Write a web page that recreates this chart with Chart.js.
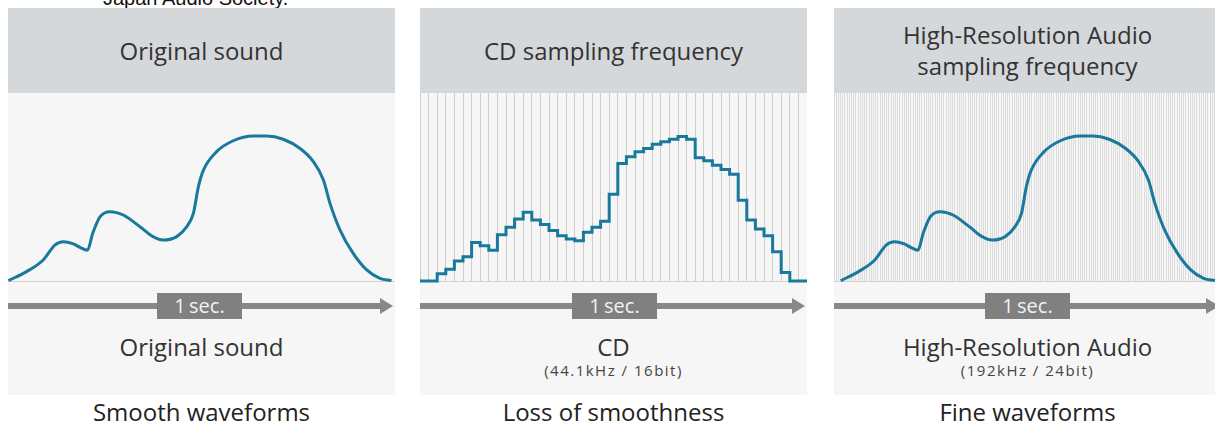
<!DOCTYPE html>
<html>
<head>
<meta charset="utf-8">
<script src="https://cdn.jsdelivr.net/npm/chart.js@4.4.1/dist/chart.umd.min.js"></script>
<style>
body { margin:0; width:1215px; height:427px; overflow:hidden; background:#fff; position:relative; font-family:"Open Sans", sans-serif; color:#333; }
.top { position:absolute; left:103px; top:-14px; font-family:"Liberation Sans", Arial, sans-serif; font-size:20px; line-height:24px; color:#111; white-space:nowrap; }
.panel { position:absolute; top:8px; width:387px; height:387px; background:#f6f6f6; }
.head { position:absolute; left:0; top:0; width:100%; height:85px; background:#d5d8db; }
.head div, .lbl, .sub { position:absolute; left:0; width:100%; text-align:center; white-space:nowrap; }
.head div { font-size:24px; line-height:32px; }
.plot { position:absolute; left:0; top:85px; }
.axis { position:absolute; left:0; top:295px; width:374px; height:6px; background:#888; }
.head-tip { position:absolute; left:372px; top:290px; width:0; height:0; border-left:13px solid #888; border-top:8px solid transparent; border-bottom:8px solid transparent; }
.sec { position:absolute; left:149px; top:285px; width:85px; height:26px; background:#808080; color:#f2f2f2; font-size:20px; line-height:26px; text-align:center; }
.lbl { top:323px; font-size:24px; line-height:32px; }
.sub { top:352px; font-size:15px; line-height:21px; letter-spacing:1.5px; color:#444; }
.cap { position:absolute; top:396px; width:387px; text-align:center; font-size:24px; line-height:32px; color:#222; }
</style>
</head>
<body>
<div class="top">Japan Audio Society.</div>

<div class="panel" style="left:8px">
  <div class="head"><div style="top:27px">Original sound</div></div>
  <canvas class="plot" id="origChart" width="387" height="190"></canvas>
  <div class="axis"></div><div class="head-tip"></div>
  <div class="sec">1&#8201;sec.</div>
  <div class="lbl">Original sound</div>
</div>
<div class="cap" style="left:8px">Smooth waveforms</div>

<div class="panel" style="left:420px">
  <div class="head"><div style="top:27px">CD sampling frequency</div></div>
  <canvas class="plot" id="cdChart" width="387" height="190"></canvas>
  <div class="axis"></div><div class="head-tip"></div>
  <div class="sec" style="left:152px">1&#8201;sec.</div>
  <div class="lbl">CD</div>
  <div class="sub">(44.1kHz / 16bit)</div>
</div>
<div class="cap" style="left:420px">Loss of smoothness</div>

<div class="panel" style="left:834px">
  <div class="head">
    <div style="top:11px">High-Resolution Audio</div>
    <div style="top:42px">sampling frequency</div>
  </div>
  <canvas class="plot" id="hiresChart" width="387" height="190"></canvas>
  <div class="axis"></div><div class="head-tip"></div>
  <div class="sec" style="left:151px">1&#8201;sec.</div>
  <div class="lbl">High-Resolution Audio</div>
  <div class="sub">(192kHz / 24bit)</div>
</div>
<div class="cap" style="left:834px">Fine waveforms</div>

<script>
// smooth waveform, time in % of the panel, level in % of plot height
const waveT = [0.1, 4.8, 9.1, 12.1, 14.3, 16.9, 18.6, 20.5, 21.9, 23.8, 26.4, 29.8, 34.1, 37.5, 40.1, 43.6, 46.2, 47.9, 49.2, 50.5, 53.9, 58.2, 63.4, 66.8, 71.1, 75.4, 78.9, 81.5, 83.2, 85.8, 89.2, 92.7, 96.1, 99.1];
const waveLevel = [0.2, 5.0, 11.2, 19.1, 20.9, 19.7, 17.9, 16.3, 25.4, 34.2, 36.9, 35.1, 28.9, 23.6, 21.8, 23.6, 28.9, 36.0, 50.2, 59.0, 68.8, 74.6, 77.1, 77.1, 75.4, 70.6, 63.5, 53.7, 41.3, 27.1, 14.7, 5.9, 1.4, 0.2];

// CD samples, one level per sample interval
const cdLevel = [0, 0, 3.9, 6.3, 10.7, 12.9, 20.5, 18.8, 16.4, 24.6, 28.6, 33.0, 36.6, 32.5, 30.0, 26.8, 24.1, 22.3, 21.4, 25.9, 28.6, 31.8, 46.1, 62.5, 66.1, 68.8, 70.5, 72.7, 74.1, 75.4, 76.8, 75.4, 65.5, 63.9, 61.6, 59.3, 56.8, 42.9, 32.5, 27.7, 24.1, 15.5, 4.5, 0, 0];

const cdSamples = 45;
const hiresSamples = 176;

Chart.defaults.font.family = '"Open Sans", sans-serif';
Chart.defaults.animation = false;

const lineColor = '#18799c';
const baseLine = '#d2d2d2';

function lineDataset(points, extra) {
    return Object.assign({
        data: points,
        borderColor: lineColor,
        borderWidth: 3,
        pointRadius: 0,
        fill: false,
        clip: false,
        borderJoinStyle: 'miter'
    }, extra);
}

function makeChart(id, dataset, scales) {
    return new Chart(document.getElementById(id), {
        type: 'line',
        data: { datasets: [dataset] },
        options: {
            responsive: false,
            events: [],
            layout: { padding: { left: 0, right: 0, top: 0, bottom: 2 } },
            scales: Object.assign({ y: { min: 0, max: 100, display: false } }, scales),
            plugins: { legend: { display: false }, tooltip: { enabled: false } }
        }
    });
}

const wavePoints = waveT.map((t, i) => ({ x: t, y: waveLevel[i] }));
const smooth = { cubicInterpolationMode: 'monotone' };

makeChart('origChart', lineDataset(wavePoints, smooth), {
    x: {
        type: 'linear', min: 0, max: 100,
        ticks: { display: false },
        grid: { color: 'rgba(0,0,0,0)', drawTicks: false },
        border: { color: baseLine }
    }
});

const cdPoints = cdLevel.map((v, i) => ({ x: i, y: v }));
cdPoints.push({ x: cdSamples, y: 0 });
makeChart('cdChart', lineDataset(cdPoints, { stepped: 'before' }), {
    x: {
        type: 'linear', min: 0, max: cdSamples,
        ticks: { display: false, stepSize: 1 },
        grid: { color: '#cdcdcd', drawTicks: false },
        border: { color: baseLine }
    }
});

makeChart('hiresChart', lineDataset(wavePoints, smooth), {
    x: { type: 'linear', min: -1.7, max: 100.7, display: false },
    samples: {
        type: 'linear', position: 'bottom', min: 0, max: hiresSamples,
        ticks: { display: false, stepSize: 1 },
        grid: { color: '#dcdcdc', drawTicks: false },
        border: { color: baseLine }
    }
});
</script>
</body>
</html>
